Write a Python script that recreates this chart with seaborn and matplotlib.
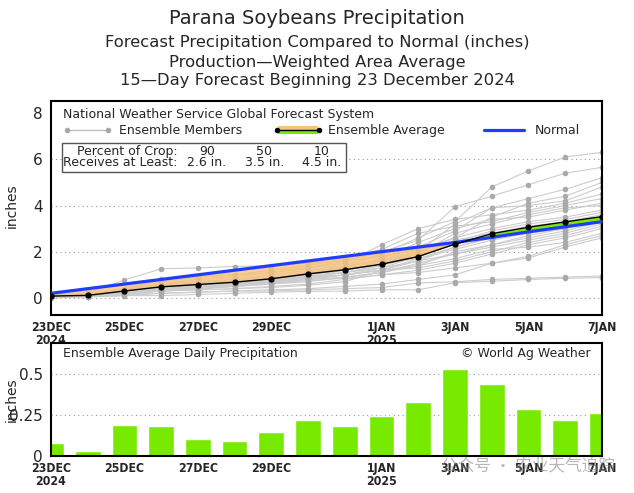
# Parana soybeans precipitation - GFS ensemble, 15 day outlook

import pandas as pd
import seaborn as sns
import matplotlib.pyplot as plt
from matplotlib.patches import Rectangle

days = list(range(16))
tick_days = [0, 2, 4, 6, 9, 11, 13, 15]
tick_labels = ['23DEC\n2024', '25DEC', '27DEC', '29DEC', '1JAN\n2025', '3JAN', '5JAN', '7JAN']

# cumulative precip (inches)
ens_avg = [0.08, 0.11, 0.30, 0.48, 0.58, 0.68, 0.83, 1.04, 1.22, 1.46, 1.79, 2.33, 2.78, 3.06, 3.29, 3.52]
normal = [0.20, 0.40, 0.60, 0.80, 1.00, 1.20, 1.40, 1.60, 1.80, 2.00, 2.20, 2.40, 2.62, 2.86, 3.08, 3.30]

members = [
    [0.05, 0.10, 0.30, 0.50, 0.70, 0.80, 0.90, 1.10, 1.40, 1.90, 2.60, 3.30, 4.80, 5.50, 6.10, 6.30],
    [0.10, 0.15, 0.40, 0.80, 0.90, 1.00, 1.10, 1.30, 1.60, 2.00, 2.50, 3.95, 4.40, 4.90, 5.40, 5.65],
    [0.05, 0.10, 0.20, 0.30, 0.40, 0.50, 0.70, 0.90, 1.20, 1.60, 2.20, 2.90, 3.90, 4.30, 4.70, 5.20],
    [0.10, 0.20, 0.78, 1.26, 1.30, 1.36, 1.40, 1.50, 1.60, 1.80, 2.10, 2.60, 3.50, 4.10, 4.40, 5.00],
    [0.05, 0.10, 0.30, 0.50, 0.60, 0.70, 0.80, 1.00, 1.20, 1.50, 2.00, 3.20, 3.90, 4.00, 4.20, 4.80],
    [0.10, 0.20, 0.30, 0.60, 0.80, 0.90, 1.10, 1.30, 1.50, 2.30, 3.00, 3.40, 3.60, 3.80, 4.10, 4.50],
    [0.10, 0.20, 0.40, 0.70, 0.90, 1.00, 1.20, 1.40, 1.70, 2.10, 2.80, 3.10, 3.30, 3.70, 4.00, 4.30],
    [0.05, 0.10, 0.20, 0.40, 0.50, 0.60, 0.80, 1.00, 1.30, 1.70, 2.40, 3.00, 3.40, 3.50, 3.80, 4.10],
    [0.05, 0.10, 0.30, 0.40, 0.50, 0.60, 0.70, 0.90, 1.10, 1.40, 1.90, 2.80, 3.20, 3.60, 3.90, 4.00],
    [0.10, 0.15, 0.35, 0.60, 0.70, 0.80, 1.00, 1.20, 1.40, 1.60, 2.00, 2.60, 3.00, 3.30, 3.50, 3.80],
    [0.05, 0.10, 0.25, 0.45, 0.55, 0.65, 0.75, 0.95, 1.10, 1.30, 1.80, 2.40, 2.90, 3.20, 3.40, 3.70],
    [0.10, 0.20, 0.40, 0.55, 0.65, 0.75, 0.85, 1.05, 1.25, 1.50, 1.90, 2.30, 2.70, 3.00, 3.30, 3.60],
    [0.05, 0.10, 0.20, 0.35, 0.45, 0.55, 0.65, 0.80, 1.00, 1.20, 1.60, 2.20, 2.60, 2.90, 3.20, 3.50],
    [0.10, 0.15, 0.30, 0.50, 0.60, 0.70, 0.90, 1.10, 1.30, 1.50, 1.70, 2.10, 2.50, 2.80, 3.00, 3.40],
    [0.05, 0.10, 0.20, 0.30, 0.40, 0.50, 0.60, 0.70, 0.90, 1.10, 1.40, 2.00, 2.30, 2.60, 2.90, 3.30],
    [0.05, 0.05, 0.15, 0.30, 0.40, 0.50, 0.60, 0.80, 0.90, 1.10, 1.50, 1.90, 2.20, 2.50, 2.80, 3.20],
    [0.10, 0.15, 0.30, 0.50, 0.60, 0.70, 0.80, 0.90, 1.00, 1.20, 1.30, 1.60, 2.00, 2.40, 2.70, 3.10],
    [0.05, 0.10, 0.20, 0.35, 0.45, 0.55, 0.65, 0.75, 0.85, 1.00, 1.20, 1.50, 1.90, 2.30, 2.60, 3.00],
    [0.05, 0.10, 0.25, 0.40, 0.50, 0.60, 0.70, 0.80, 1.00, 1.20, 1.40, 1.70, 2.10, 2.20, 2.40, 2.80],
    [0.05, 0.10, 0.20, 0.30, 0.35, 0.40, 0.50, 0.60, 0.80, 1.00, 1.10, 1.30, 1.50, 1.73, 2.20, 2.60],
    [0.00, 0.05, 0.10, 0.20, 0.25, 0.30, 0.35, 0.40, 0.50, 0.60, 0.80, 1.00, 1.50, 1.80, 2.30, 2.70],
    [0.05, 0.10, 0.20, 0.30, 0.35, 0.40, 0.45, 0.55, 0.70, 1.20, 1.70, 2.20, 2.60, 3.00, 3.20, 3.30],
    [0.05, 0.10, 0.15, 0.20, 0.25, 0.30, 0.30, 0.35, 0.40, 0.45, 0.65, 0.70, 0.80, 0.85, 0.90, 0.95],
    [0.00, 0.05, 0.10, 0.10, 0.15, 0.20, 0.25, 0.28, 0.30, 0.35, 0.35, 0.66, 0.72, 0.80, 0.85, 0.88],
    [0.05, 0.10, 0.25, 0.40, 0.50, 0.60, 0.70, 0.85, 1.00, 1.30, 1.60, 1.90, 2.30, 2.70, 3.00, 3.40],
    [0.10, 0.15, 0.30, 0.45, 0.55, 0.65, 0.75, 0.90, 1.10, 1.40, 1.80, 2.50, 2.80, 3.10, 3.30, 3.50],
]

# daily ensemble average (inches)
daily = [0.078, 0.033, 0.19, 0.184, 0.104, 0.094, 0.145, 0.22, 0.182, 0.243, 0.331, 0.529, 0.439, 0.29, 0.222, 0.263]

crop_pct = ['90', '50', '10']
crop_amt = ['2.6 in.', '3.5 in.', '4.5 in.']

mem_df = pd.DataFrame([(m, d, v) for m, vals in enumerate(members) for d, v in zip(days, vals)],
                      columns=['member', 'day', 'inches'])

sns.set_style("white")
plt.rcParams['font.family'] = ['DejaVu Sans']

orange = '#f6c27c'
green = '#78ea00'
blue = '#1f3cff'
fs = 9

fig = plt.figure(figsize=(6.34, 4.93), dpi=100)
ax1 = fig.add_axes([0.0804, 0.361, 0.869, 0.434])
ax2 = fig.add_axes([0.0804, 0.075, 0.869, 0.229])

fig.text(0.5, 0.963, 'Parana Soybeans Precipitation', ha='center', va='center', fontsize=14)
fig.text(0.5, 0.913, 'Forecast Precipitation Compared to Normal (inches)', ha='center', va='center', fontsize=11.8)
fig.text(0.5, 0.874, 'Production\u2014Weighted Area Average', ha='center', va='center', fontsize=11.8)
fig.text(0.5, 0.836, '15\u2014Day Forecast Beginning 23 December 2024', ha='center', va='center', fontsize=11.8)

# ---- top panel: cumulative
for y in [0, 2, 4, 6]:
    ax1.axhline(y, color='#999999', lw=0.8, ls=(0, (1, 3)), zorder=0)

sns.lineplot(data=mem_df, x='day', y='inches', units='member', estimator=None, ax=ax1,
             color='#cccccc', lw=0.8, marker='o', markersize=4, markerfacecolor='#aaaaaa',
             markeredgewidth=0, zorder=2)

ax1.fill_between(days, ens_avg, normal, where=[a <= n for a, n in zip(ens_avg, normal)],
                 interpolate=True, color=orange, alpha=0.8, lw=0, zorder=3)
ax1.fill_between(days, ens_avg, normal, where=[a >= n for a, n in zip(ens_avg, normal)],
                 interpolate=True, color=green, lw=0, zorder=3)

sns.lineplot(x=days, y=normal, ax=ax1, color=blue, lw=2.3, zorder=4)
sns.lineplot(x=days, y=ens_avg, ax=ax1, color='black', lw=1, marker='o', markersize=4.5,
             markeredgewidth=0, zorder=5)

ax1.set_xlim(0, 15)
ax1.set_ylim(-0.74, 8.52)
ax1.set_yticks([0, 2, 4, 6, 8])
ax1.set_xticks(tick_days)
ax1.set_xticklabels(tick_labels, fontsize=8.8, fontweight='bold', fontstretch='condensed', linespacing=1.0)
ax1.set_xlabel('')
ax1.set_ylabel('inches', fontsize=10)
ax1.yaxis.set_label_coords(-0.058, 0.51)

# legend-ish header inside the plot
ax1.text(0.022, 0.939, 'National Weather Service Global Forecast System', transform=ax1.transAxes,
         va='center', fontsize=fs, zorder=6)
ax1.plot([0.029, 0.103], [0.864, 0.864], transform=ax1.transAxes, color='#c0c0c0', lw=1,
         marker='o', markersize=4, markerfacecolor='#a8a8a8', markeredgewidth=0)
ax1.text(0.123, 0.864, 'Ensemble Members', transform=ax1.transAxes, va='center', fontsize=fs)
ax1.add_patch(Rectangle((0.412, 0.864), 0.072, 0.02, transform=ax1.transAxes, color=orange, lw=0))
ax1.add_patch(Rectangle((0.412, 0.844), 0.072, 0.02, transform=ax1.transAxes, color=green, lw=0))
ax1.plot([0.41, 0.486], [0.864, 0.864], transform=ax1.transAxes, color='black', lw=1,
         marker='o', markersize=4, markeredgewidth=0)
ax1.text(0.503, 0.864, 'Ensemble Average', transform=ax1.transAxes, va='center', fontsize=fs)
ax1.plot([0.786, 0.858], [0.864, 0.864], transform=ax1.transAxes, color=blue, lw=2.3)
ax1.text(0.878, 0.864, 'Normal', transform=ax1.transAxes, va='center', fontsize=fs)

ax1.add_patch(Rectangle((0.020, 0.668), 0.515, 0.136, transform=ax1.transAxes, facecolor='white',
                        edgecolor='#555555', lw=1, zorder=6))
ax1.text(0.229, 0.762, 'Percent of Crop:', transform=ax1.transAxes, ha='right', va='center', fontsize=fs, zorder=7)
ax1.text(0.229, 0.712, 'Receives at Least:', transform=ax1.transAxes, ha='right', va='center', fontsize=fs, zorder=7)
for i, (p, a) in enumerate(zip(crop_pct, crop_amt)):
    ax1.text(0.283 + i * 0.104, 0.762, p, transform=ax1.transAxes, ha='center', va='center', fontsize=fs, zorder=7)
    ax1.text(0.283 + i * 0.104, 0.712, a, transform=ax1.transAxes, ha='center', va='center', fontsize=fs, zorder=7)

# ---- bottom panel: daily
for y in [0.25, 0.5]:
    ax2.axhline(y, color='#999999', lw=0.8, ls=(0, (1, 3)), zorder=0)

sns.barplot(x=days, y=daily, ax=ax2, native_scale=True, color=green, saturation=1, width=0.7, zorder=2)

ax2.set_xlim(0, 15)
ax2.set_ylim(0, 0.69)
ax2.set_yticks([0, 0.25, 0.5])
ax2.set_yticklabels(['0', '0.25', '0.5'])
ax2.set_xticks(tick_days)
ax2.set_xticklabels(tick_labels, fontsize=8.8, fontweight='bold', fontstretch='condensed', linespacing=1.0)
ax2.set_xlabel('')
ax2.set_ylabel('inches', fontsize=10)
ax2.yaxis.set_label_coords(-0.058, 0.5)
ax2.text(0.022, 0.91, 'Ensemble Average Daily Precipitation', transform=ax2.transAxes, va='center', fontsize=fs)
ax2.text(0.98, 0.91, '\u00a9 World Ag Weather', transform=ax2.transAxes, ha='right', va='center', fontsize=fs)

for ax in [ax1, ax2]:
    for s in ax.spines.values():
        s.set_linewidth(1.5)
        s.set_color('black')
    ax.tick_params(axis='y', direction='out', length=4, width=1, labelsize=11, pad=2)
    ax.tick_params(axis='x', direction='in', length=5, width=1, pad=4)

# watermark
fig.text(0.97, 0.055, '公众号 · 农业天气追踪', ha='right', va='center', fontsize=12, color='#888888',
         alpha=0.6, family=['Noto Sans CJK SC', 'DejaVu Sans'])

fig.savefig('out.png', dpi=100)
